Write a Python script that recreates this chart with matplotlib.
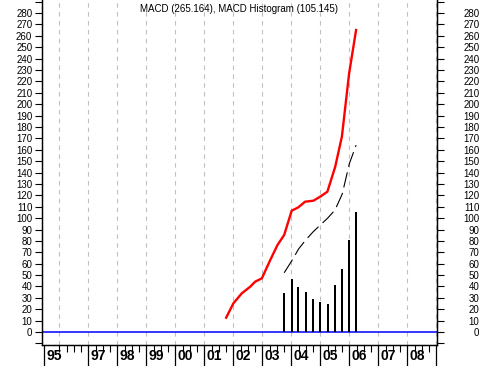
import numpy as np
import matplotlib
matplotlib.use("Agg")
import matplotlib.pyplot as plt
import matplotlib.transforms as mtransforms
from matplotlib.ticker import FixedLocator, FuncFormatter

# MACD line (red)
macd_x = [2001.75, 2002.0, 2002.29, 2002.58, 2002.75, 2002.98, 2003.27, 2003.52,
          2003.75, 2004.01, 2004.24, 2004.47, 2004.76, 2004.99, 2005.24, 2005.51,
          2005.74, 2005.99, 2006.23]
macd_y = [12.6, 25.2, 34.0, 39.8, 44.2, 47.1, 63.2, 76.4,
          85.2, 106.5, 109.5, 114.4, 115.3, 118.8, 123.2, 145.1,
          171.5, 227.1, 265.164]

# signal line (black dashed)
sig_x = [2003.75, 2004.0, 2004.25, 2004.5, 2004.75, 2005.0, 2005.25, 2005.5,
         2005.75, 2006.0, 2006.23]
sig_y = [52, 62, 73, 81, 88, 94, 100, 107, 121, 148, 164]

# histogram bars
hist_x = [2003.75, 2004.01, 2004.23, 2004.50, 2004.74, 2004.98, 2005.26, 2005.50,
          2005.75, 2005.98, 2006.23]
hist_y = [34.5, 46.2, 39.5, 34.8, 29.0, 26.3, 24.3, 41.1, 55.2, 80.7, 105.145]

year_ticks = [1995.47] + list(range(1997, 2010))
year_labels = ["95", "97", "98", "99", "00", "01", "02", "03", "04", "05", "06", "07", "08", ""]
grid_years = list(range(1996, 2010))

fig = plt.figure(figsize=(4.81, 3.66), dpi=100)
ax = fig.add_axes([42 / 481, 21 / 366, 395 / 481, 345 / 366])

for g in grid_years:
    ax.axvline(g, color="#c0c0c0", lw=0.8, ls=(0, (4, 4)), zorder=0)

ax.axhline(0, color="#0000ff", lw=1.1, zorder=1)
ax.bar(hist_x, hist_y, width=0.075, color="black", zorder=2)
ax.plot(sig_x, sig_y, color="black", lw=0.8, ls=(0, (14, 5)), zorder=3)
ax.plot(macd_x, macd_y, color="#ff0000", lw=1.7, zorder=4)

ax.set_xlim(1995.40, 2009.02)
ax.set_ylim(-11.4, 291.5)

# y axis: same ticks on both sides, right labels flush right at image edge
yt = list(range(-10, 300, 10))
yfmt = FuncFormatter(lambda v, p: "" if v < 0 or v > 280 else "%d" % v)
ax2 = ax.twinx()
ax2.set_ylim(ax.get_ylim())
for a in (ax, ax2):
    a.yaxis.set_major_locator(FixedLocator(yt))
    a.yaxis.set_major_formatter(yfmt)
ax.tick_params(axis="y", direction="out", length=5, width=0.8, labelsize=7, pad=2)
ax2.tick_params(axis="y", direction="out", length=5, width=0.8, labelsize=7, pad=25.5)
for lab in ax.get_yticklabels():
    lab.set_fontfamily("Liberation Sans")
for lab in ax2.get_yticklabels():
    lab.set_fontfamily("Liberation Sans")
    lab.set_horizontalalignment("right")

# x axis: year ticks long, quarter ticks short, labels right of tick
ax.xaxis.set_major_locator(FixedLocator(year_ticks))
ax.xaxis.set_major_formatter(FuncFormatter(lambda v, p: ""))
minor = [y + q for y in range(1996, 2009) for q in (0, 0.25, 0.5, 0.75)]
minor = [m for m in minor if m not in year_ticks]
ax.xaxis.set_minor_locator(FixedLocator(minor))
ax.tick_params(axis="x", which="major", direction="out", length=15, width=0.9)
ax.tick_params(axis="x", which="minor", direction="out", length=5, width=0.8)

off = mtransforms.offset_copy(ax.get_xaxis_transform(), fig=fig, x=1.5, y=-3.0, units="points")
for xv, lab in zip(year_ticks, year_labels):
    ax.text(xv, 0, lab, transform=off, ha="left", va="top", fontsize=10,
            fontweight="bold", family="Liberation Sans")

for a in (ax, ax2):
    a.spines["top"].set_visible(False)
    for s in ("left", "right", "bottom"):
        a.spines[s].set_linewidth(0.9)

ax.text(0.5, 0.974, "MACD (265.164), MACD Histogram (105.145)", transform=ax.transAxes,
        ha="center", va="center", fontsize=7, family="Liberation Sans")

fig.savefig("out.png", dpi=100)
